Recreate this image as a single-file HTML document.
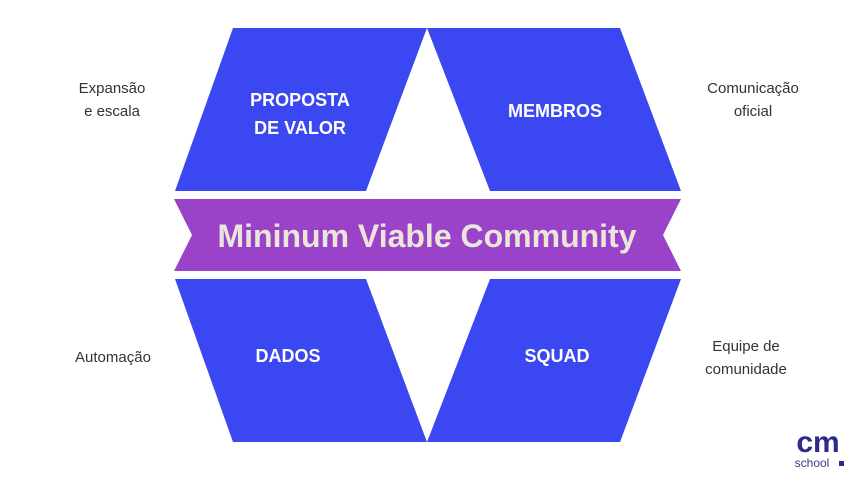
<!DOCTYPE html>
<html><head><meta charset="utf-8"><style>
body{margin:0;width:857px;height:479px;background:#fff;overflow:hidden;font-family:"Liberation Sans",sans-serif}
</style></head><body>
<svg width="857" height="479" viewBox="0 0 857 479" xmlns="http://www.w3.org/2000/svg">
<g fill="#3b48f2">
<polygon points="233,28 427,28 366,191 175,191"/>
<polygon points="427,28 620,28 681,191 490,191"/>
<polygon points="175,279 366,279 427,442 233,442"/>
<polygon points="490,279 681,279 620,442 427,442"/>
</g>
<polygon points="174,199 681,199 663,235 681,271 174,271 192,235" fill="#9a43c9"/>
<text x="427" y="247" text-anchor="middle" font-size="32" font-weight="bold" fill="#ebe6da">Mininum Viable Community</text>
<g fill="#fff" font-size="18" font-weight="bold" text-anchor="middle">
<text x="300" y="106">PROPOSTA</text>
<text x="300" y="134">DE VALOR</text>
<text x="555" y="117">MEMBROS</text>
<text x="288" y="362">DADOS</text>
<text x="557" y="362">SQUAD</text>
</g>
<g fill="#333" font-size="15" text-anchor="middle">
<text x="112" y="93">Expansão</text>
<text x="112" y="116">e escala</text>
<text x="753" y="93">Comunicação</text>
<text x="753" y="116">oficial</text>
<text x="113" y="362">Automação</text>
<text x="746" y="351">Equipe de</text>
<text x="746" y="374">comunidade</text>
</g>
<text x="818" y="452" text-anchor="middle" font-size="30" font-weight="bold" fill="#2d2a8a">cm</text>
<text x="812" y="467" text-anchor="middle" font-size="12" fill="#3d3a8a">school</text>
<rect x="839" y="461" width="5" height="5" fill="#2d2a8a"/>
</svg>
</body></html>
